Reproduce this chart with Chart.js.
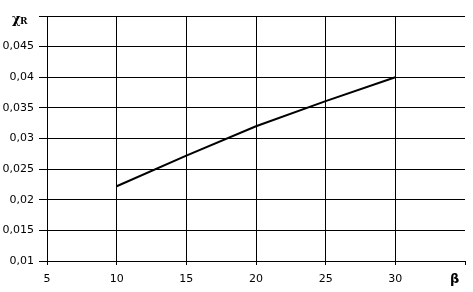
<!DOCTYPE html>
<html>
<head>
<meta charset="utf-8">
<script src="https://cdn.jsdelivr.net/npm/chart.js@4/dist/chart.umd.min.js"></script>
<style>
  html, body { margin: 0; padding: 0; background: #fff; }
  #wrap { width: 473px; height: 292px; position: relative; }
</style>
</head>
<body>
<div id="wrap"><canvas id="chart"></canvas></div>
<script>
// values
const betaValues = [10, 15, 20, 25, 30];
const chiValues = [0.0222, 0.0272, 0.032, 0.0361, 0.04];
const xTicks = [5, 10, 15, 20, 25, 30, 35];
const yTicks = [0.01, 0.015, 0.02, 0.025, 0.03, 0.035, 0.04, 0.045, 0.05];

// axis captions drawn at the corners like the original
const axisCaptions = {
    id: 'axisCaptions',
    afterDraw(chart) {
        const c = chart.ctx;
        const area = chart.chartArea;
        c.save();
        c.fillStyle = '#000';
        c.font = 'bold 13px "DejaVu Serif", serif';
        c.textBaseline = 'middle';
        c.textAlign = 'left';
        c.fillText('χ', 12, area.top + 4);
        c.font = 'bold 9px "DejaVu Serif", serif';
        c.fillText('R', 20, area.top + 6);
        c.font = 'bold 13px "DejaVu Sans", sans-serif';
        c.fillText('β', area.right - 15, area.bottom + 19);
        c.restore();
    }
};

document.addEventListener('DOMContentLoaded', function() {
    const ctx = document.getElementById('chart').getContext('2d');
    new Chart(ctx, {
        type: 'line',
        data: {
            datasets: [{
                data: betaValues.map((b, i) => ({ x: b, y: chiValues[i] })),
                borderColor: '#000',
                borderWidth: 2,
                pointRadius: 0,
                tension: 0,
                fill: false
            }]
        },
        options: {
            responsive: true,
            maintainAspectRatio: false,
            animation: false,
            layout: { padding: { top: 16, right: 6, left: 0, bottom: 0 } },
            plugins: {
                legend: { display: false },
                tooltip: { enabled: false }
            },
            scales: {
                x: {
                    type: 'linear',
                    min: 5,
                    max: 35,
                    afterBuildTicks: s => { s.ticks = xTicks.map(v => ({ value: v })); },
                    afterFit: s => { s.height = 31; },
                    ticks: {
                        color: '#000',
                        font: { family: 'DejaVu Sans, sans-serif', size: 11 },
                        padding: 8,
                        maxRotation: 0,
                        callback: v => v === 35 ? '' : String(v)
                    },
                    grid: {
                        color: ctx => ctx.tick && ctx.tick.value === 35 ? 'rgba(0,0,0,0)' : '#000',
                        lineWidth: 1,
                        tickLength: 4,
                        tickColor: '#000'
                    },
                    border: { color: '#000', width: 1 }
                },
                y: {
                    min: 0.01,
                    max: 0.05,
                    afterBuildTicks: s => { s.ticks = yTicks.map(v => ({ value: v })); },
                    afterFit: s => { s.width = 47; },
                    ticks: {
                        color: '#000',
                        font: { family: 'DejaVu Sans, sans-serif', size: 11 },
                        padding: 5,
                        callback: v => v >= 0.0499 ? '' : String(+v.toFixed(3)).replace('.', ',')
                    },
                    grid: {
                        color: '#000',
                        lineWidth: 1,
                        tickLength: 8,
                        tickColor: '#000'
                    },
                    border: { color: '#000', width: 1 }
                }
            }
        },
        plugins: [axisCaptions]
    });
});
</script>
</body>
</html>
